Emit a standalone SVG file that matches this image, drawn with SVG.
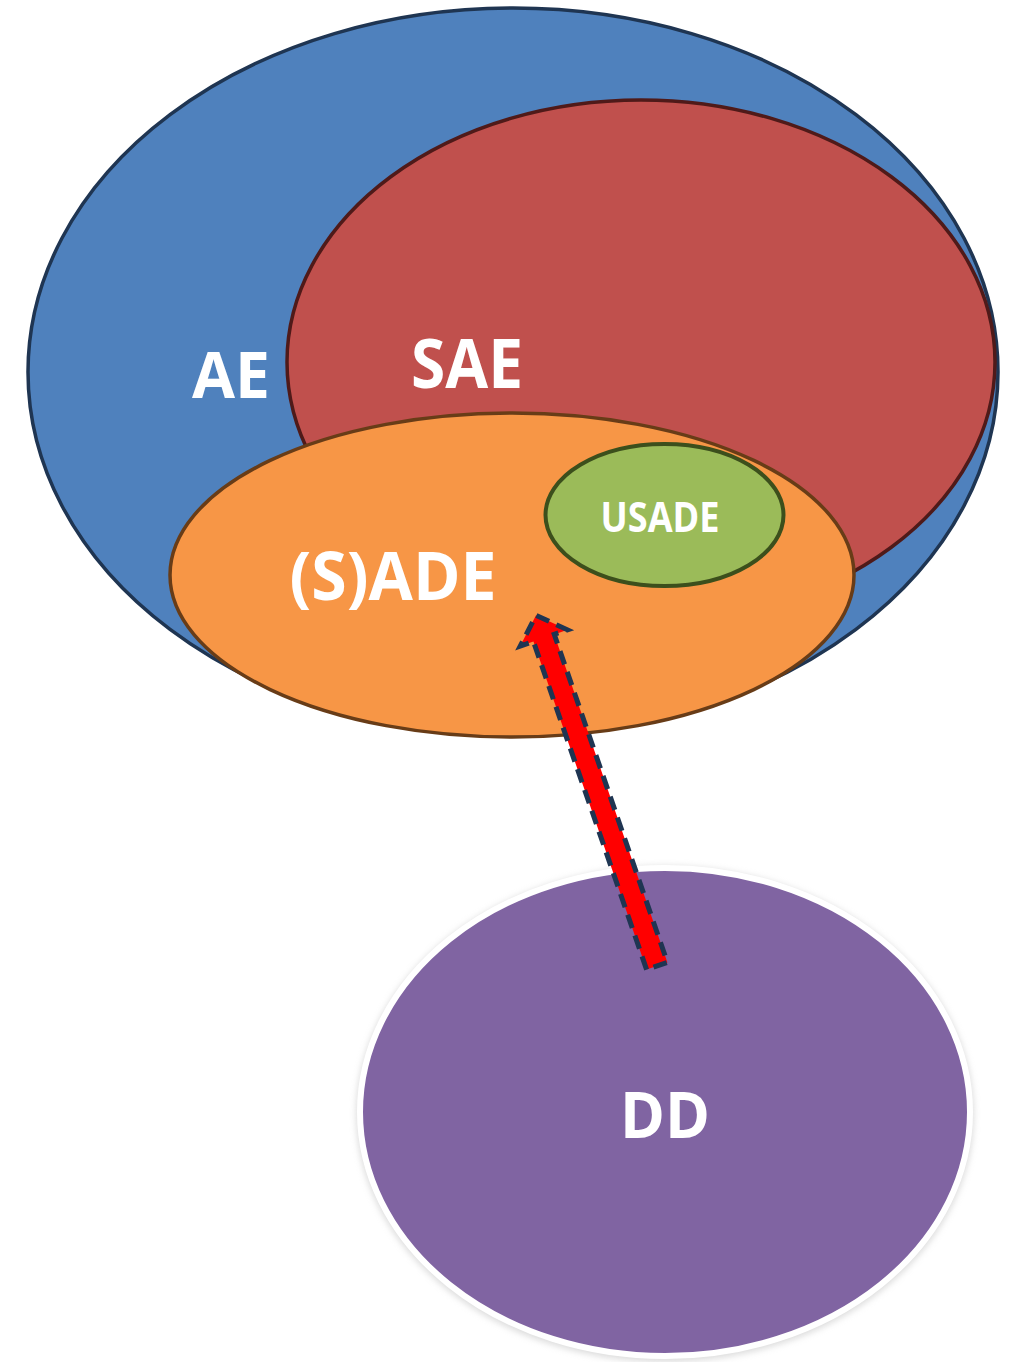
<svg xmlns="http://www.w3.org/2000/svg" width="1013" height="1362" viewBox="0 0 1013 1362">
<defs>
<style>
.lbl{font-family:"Open Sans","Liberation Sans",sans-serif;font-weight:bold;fill:#ffffff;text-anchor:middle}
</style>
<filter id="sh" x="-10%" y="-10%" width="120%" height="120%">
<feGaussianBlur stdDeviation="3"/>
</filter>
</defs>
<rect width="1013" height="1362" fill="#ffffff"/>
<g id="AE">
<ellipse cx="513" cy="372" rx="485" ry="364" fill="#4F81BD" stroke="#1F3552" stroke-width="3.5"/>
<text class="lbl" x="231" y="398" font-size="64" textLength="78" lengthAdjust="spacingAndGlyphs">AE</text>
</g>
<g id="SAE">
<ellipse cx="641" cy="362" rx="354" ry="262" fill="#C0504D" stroke="#4F1A19" stroke-width="3.5"/>
<text class="lbl" x="467" y="388" font-size="68" textLength="112" lengthAdjust="spacingAndGlyphs">SAE</text>
</g>
<g id="SADE">
<ellipse cx="512" cy="575" rx="342" ry="162" fill="#F79646" stroke="#683C17" stroke-width="3.5"/>
<text class="lbl" x="393" y="600" font-size="66" textLength="207" lengthAdjust="spacingAndGlyphs">(S)ADE</text>
</g>
<g id="USADE">
<ellipse cx="664.5" cy="515" rx="119" ry="71" fill="#9BBB59" stroke="#3C4F1C" stroke-width="4"/>
<text class="lbl" x="660" y="532" font-size="42" textLength="119" lengthAdjust="spacingAndGlyphs">USADE</text>
</g>
<g id="DD">
<ellipse cx="665" cy="1114" rx="309" ry="248" fill="#bbbbbb" opacity="0.5" filter="url(#sh)"/>
<ellipse cx="665" cy="1112" rx="305" ry="244" fill="#8064A2" stroke="#ffffff" stroke-width="6"/>
<text class="lbl" x="665" y="1138" font-size="64" textLength="90" lengthAdjust="spacingAndGlyphs">DD</text>
</g>
<g id="connectors">
<g transform="translate(657,966) rotate(-109.03)">
<polygon points="0,-11 347,-11 347,-25 371,0 347,25 347,11 0,11" fill="#FF0000" stroke="#1F3552" stroke-width="5" stroke-dasharray="14 8"/>
</g>
</g>
</svg>
